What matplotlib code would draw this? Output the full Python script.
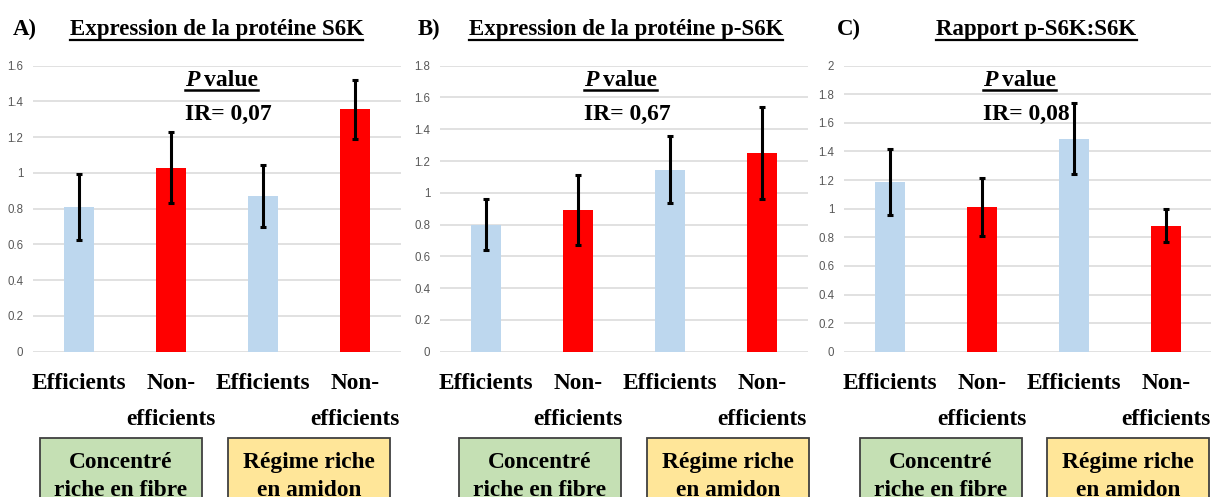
## three bar charts of S6K / p-S6K expression with error bars

import matplotlib
matplotlib.use('Agg')
import matplotlib.pyplot as plt
from matplotlib.patches import Rectangle
from matplotlib.lines import Line2D
from matplotlib.ticker import FuncFormatter, MultipleLocator

## DATA
groups = ['Efficients', 'Non-\nefficients', 'Efficients', 'Non-\nefficients']
s6k = [0.81, 1.03, 0.87, 1.355]
s6k_err = [0.185, 0.20, 0.172, 0.166]
p_s6k = [0.80, 0.89, 1.145, 1.25]
p_s6k_err = [0.16, 0.22, 0.21, 0.29]
ratio = [1.185, 1.01, 1.49, 0.88]
ratio_err = [0.232, 0.202, 0.248, 0.115]

letters = ['A)', 'B)', 'C)']
titles = ['Expression de la protéine S6K',
          'Expression de la protéine p-S6K',
          'Rapport p-S6K:S6K']
p_ir = ['0,07', '0,67', '0,08']
ymax = [1.6, 1.8, 2.0]
diets = ['Concentré\nriche en fibre', 'Régime riche\nen amidon']

bar_colors = ['#BDD7EE', '#FF0000', '#BDD7EE', '#FF0000']
diet_colors = ['#C5E0B4', '#FFE699']

## LAYOUT (pixels of the 1211x497 picture)
W, H = 1211, 497
ax_left = [33, 440, 844]
ax_w = 368
ax_top, ax_bot = 65.7, 351.7
title_cx = [216.5, 626, 1036.5]
letter_x = [13, 418, 837]
pval_x = [185, 584, 983]
box_left = [[40, 228], [459, 647], [860, 1047]]
box_w = 162

serif = 'Liberation Serif'

fig = plt.figure(figsize=(W / 100, H / 100), dpi=100)
renderer = fig.canvas.get_renderer()


def fx(x):
    return x / W


def fy(y):
    return 1 - y / H


def underline(txts, gap=4.5, lw=1.6):
    # draw a line under one or more text objects
    boxes = [t.get_window_extent(renderer) for t in txts]
    x0 = min(b.x0 for b in boxes)
    x1 = max(b.x1 for b in boxes)
    base = txts[0].get_transform().transform(txts[0].get_position())[1]
    yy = base - gap
    fig.add_artist(Line2D([x0 / W, x1 / W], [yy / H, yy / H],
                          transform=fig.transFigure, color='black', lw=lw))


panels = [(s6k, s6k_err), (p_s6k, p_s6k_err), (ratio, ratio_err)]

for i, (vals, errs) in enumerate(panels):
    ax = fig.add_axes([fx(ax_left[i]), fy(ax_bot), ax_w / W, (ax_bot - ax_top) / H])
    x = list(range(len(groups)))
    ax.bar(x, vals, width=0.32, color=bar_colors, zorder=2)
    ax.errorbar(x, vals, yerr=errs, fmt='none', ecolor='black',
                elinewidth=2.2, capsize=2, capthick=2.2, zorder=3)
    ax.set_xlim(-0.5, 3.5)
    ax.set_ylim(0, ymax[i])
    ax.yaxis.set_major_locator(MultipleLocator(0.2))
    ax.yaxis.set_major_formatter(FuncFormatter(lambda v, p: '%g' % round(v, 1)))
    ax.grid(axis='y', color='#D9D9D9', lw=1.1, zorder=0)
    ax.set_axisbelow(True)
    for s in ax.spines.values():
        s.set_visible(False)
    ax.tick_params(axis='y', length=0, pad=7, labelsize=8.3, labelcolor='#595959')
    ax.tick_params(axis='x', length=0, pad=15.5)
    for lab in ax.get_yticklabels():
        lab.set_fontfamily('Liberation Sans')
    ax.set_xticks(x)
    ax.set_xticklabels(groups, fontfamily=serif, fontweight='bold', fontsize=16.8,
                       linespacing=1.9)

    # panel letter and underlined title
    fig.text(fx(letter_x[i]), fy(35.5), letters[i], fontfamily=serif,
             fontweight='bold', fontsize=16.5, va='baseline', ha='left')
    t = fig.text(fx(title_cx[i]), fy(35.5), titles[i], fontfamily=serif,
                 fontweight='bold', fontsize=16.5, va='baseline', ha='center')
    underline([t])

    # P value annotation
    tp = fig.text(fx(pval_x[i]), fy(86.5), 'P', fontfamily=serif, fontweight='bold',
                  style='italic', fontsize=17, va='baseline', ha='left')
    bb = tp.get_window_extent(renderer)
    tv = fig.text((bb.x1 + 5) / W, fy(86.5), 'value', fontfamily=serif,
                  fontweight='bold', fontsize=17, va='baseline', ha='left')
    underline([tp, tv], gap=3.5, lw=1.8)
    fig.text(fx(pval_x[i]), fy(119.5), 'IR= ' + p_ir[i], fontfamily=serif,
             fontweight='bold', fontsize=17, va='baseline', ha='left')

    # diet boxes
    for j, diet in enumerate(diets):
        bx = box_left[i][j]
        fig.add_artist(Rectangle((fx(bx), fy(520)), box_w / W, (520 - 437.5) / H,
                                 transform=fig.transFigure, facecolor=diet_colors[j],
                                 edgecolor='#404040', lw=1.3))
        fig.text(fx(bx + box_w / 2), fy(496), diet, fontfamily=serif,
                 fontweight='bold', fontsize=16.8, va='baseline', ha='center',
                 linespacing=1.42)

fig.savefig('out.png', dpi=100)
